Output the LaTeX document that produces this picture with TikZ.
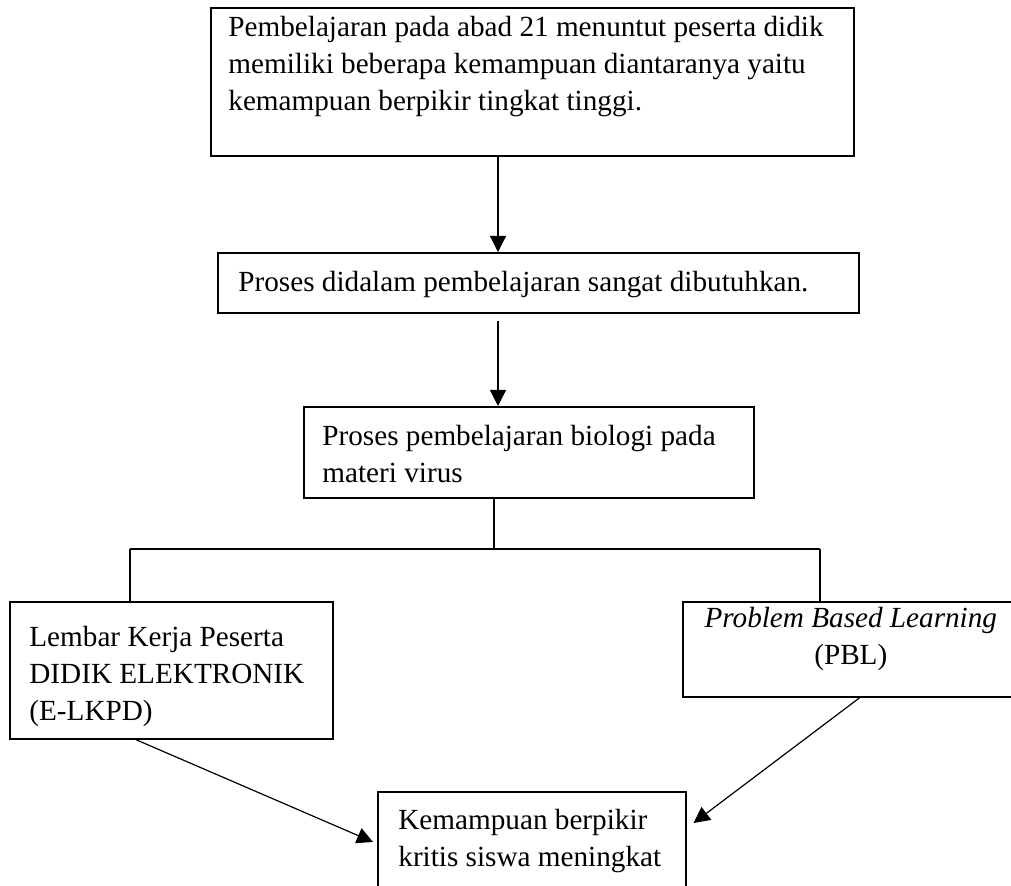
\documentclass[tikz,border=0pt]{standalone}
\usepackage{fontspec}
\setmainfont{Liberation Serif}
\usepackage{tikz}
\usetikzlibrary{calc}
\usetikzlibrary{arrows.meta}
\tikzset{
	box/.style={draw, line width=.8pt, anchor=north west, inner sep=0pt},
	txt/.style={anchor=north west, inner sep=0pt, align=left, font=\fontsize{14.6pt}{18.35pt}\selectfont},
	arr/.style={line width=.6pt, -{Triangle[length=8pt,width=8pt]}},
}

\begin{document}
\begin{tikzpicture}[x=.5pt,y=-.5pt]
			\clip (0,0) rectangle (1011,886);
			\coordinate (spine) at (498,0);
			\coordinate (stem) at (494,549);
			\coordinate (forkL) at (130,549);
			\coordinate (forkR) at (820,549);
			% boxes
			\node[box, minimum width=321.5pt, minimum height=74pt] (need) at (210,7) {};
			\node[box, minimum width=320.5pt, minimum height=30pt] (proses) at (217,252) {};
			\node[box, minimum width=225pt, minimum height=45.5pt] (biologi) at (303,406) {};
			\node[box, minimum width=161.5pt, minimum height=68.5pt] (lkpd) at (9,601) {};
			\node[box, minimum width=167pt, minimum height=47.5pt] (pbl) at (682,601) {};
			\node[box, minimum width=154pt, minimum height=70pt] (skill) at (377,791) {};
			% texts
			\node[txt, xshift=9pt, yshift=-4.5pt] (needtxt) at (need.north west) {Pembelajaran pada abad 21 menuntut peserta didik\\memiliki beberapa kemampuan diantaranya yaitu\\kemampuan berpikir tingkat tinggi.};
			\node[txt, xshift=10.5pt, yshift=-9.5pt] (prosestxt) at (proses.north west) {Proses didalam pembelajaran sangat dibutuhkan.};
			\node[txt, xshift=9.5pt, yshift=-9.5pt] (biologitxt) at (biologi.north west) {Proses pembelajaran biologi pada\\materi virus};
			\node[txt, xshift=10pt, yshift=-12.5pt] (lkpdtxt) at (lkpd.north west) {Lembar Kerja Peserta\\DIDIK ELEKTRONIK\\(E-LKPD)};
			\node[txt, anchor=north, align=center, xshift=.5pt, yshift=-3pt] (pbltxt) at (pbl.north) {\textit{Problem Based Learning}\\(PBL)};
			\node[txt, xshift=10.5pt, yshift=-9pt] (skilltxt) at (skill.north west) {Kemampuan berpikir\\kritis siswa meningkat};
			% connectors
			\draw[arr] (need.south -| spine) -- (proses.north -| spine);
			\draw[arr] ($(proses.south -| spine)+(0,7)$) -- (biologi.north -| spine);
			\draw[line width=.6pt] (biologi.south -| stem) -- (stem) (forkL) -- (forkR)
			(forkL) -- (lkpd.north -| forkL) (forkR) -- (pbl.north -| forkR);
			\draw[arr] ([xshift=-17.75pt]lkpd.south) -- ($(skill.north west)+(-4,51)$);
			\draw[arr] ([xshift=5pt]pbl.south) -- ($(skill.north east)+(7,32)$);
\end{tikzpicture}
\end{document}
